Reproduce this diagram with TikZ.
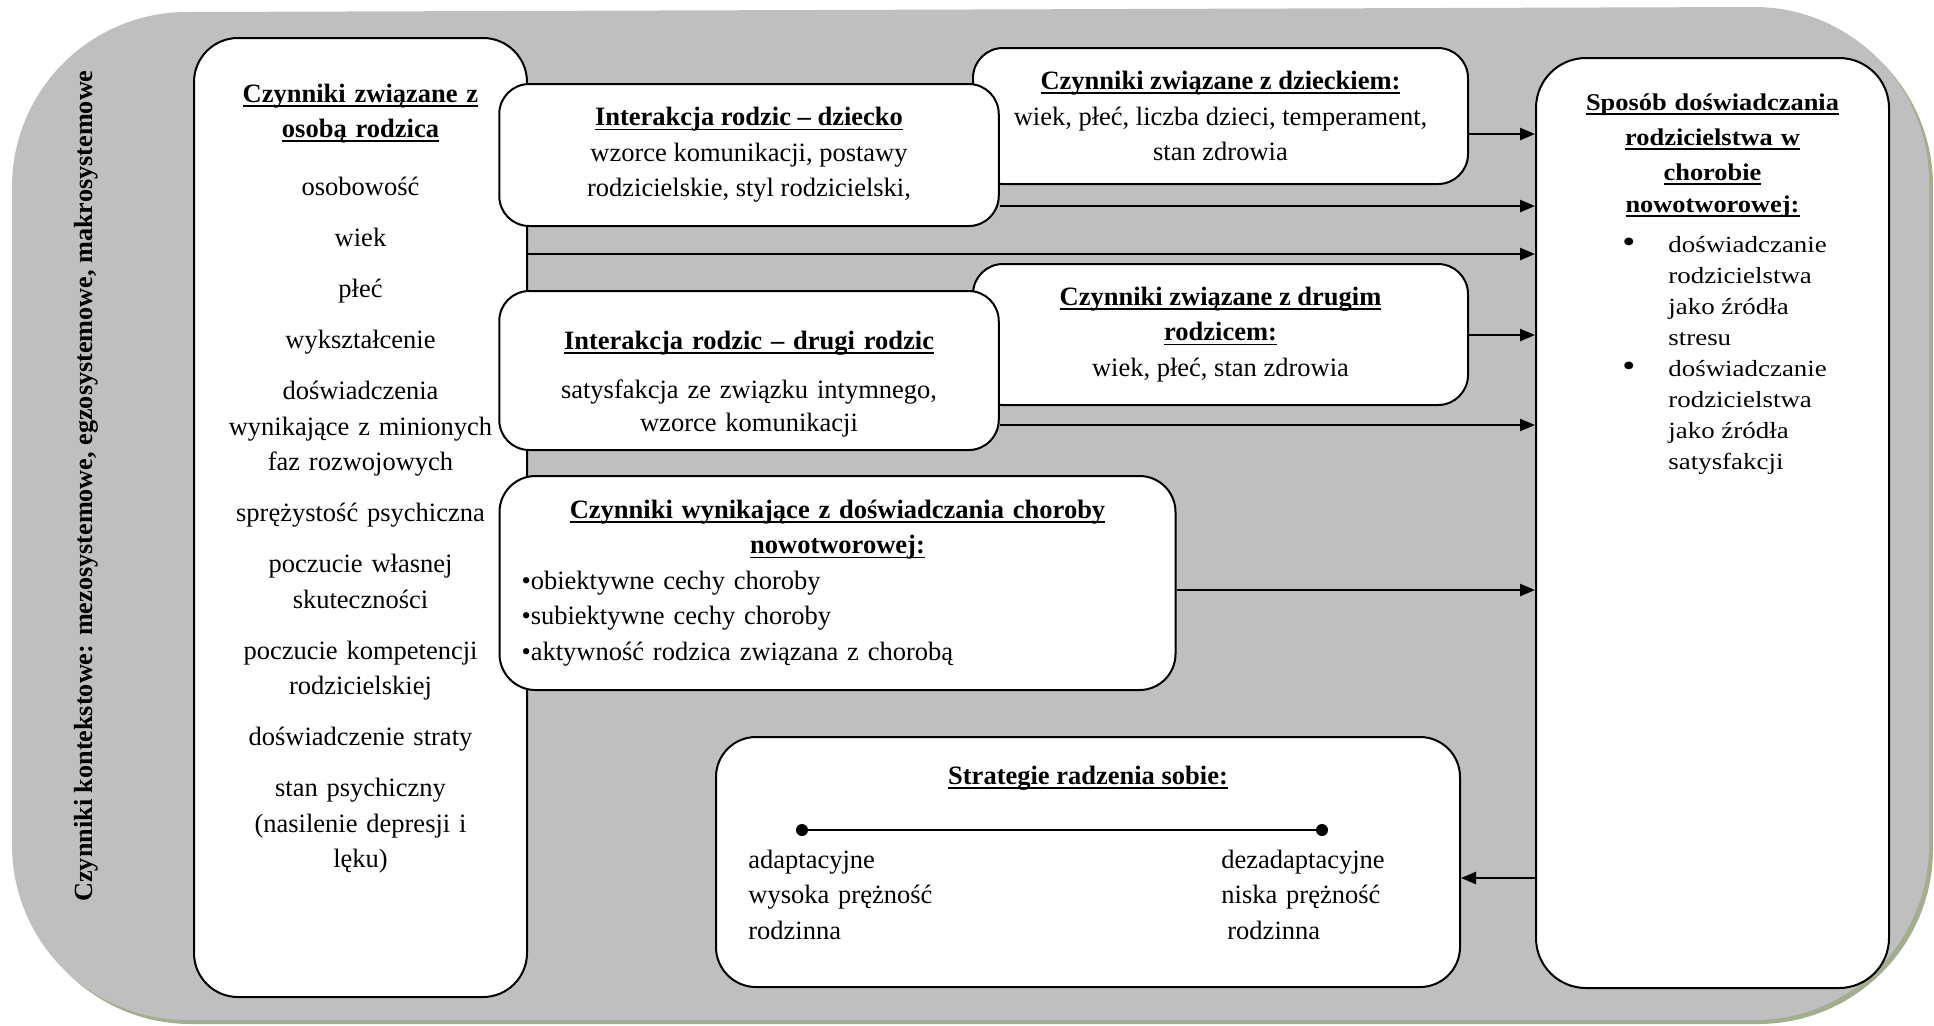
\documentclass[tikz,border=0pt]{standalone}
\usepackage{fontspec}
\setmainfont{Liberation Serif}
\newfontfamily\titlewide[FakeStretch=1.1]{Liberation Serif}
\newfontfamily\bodywide[FakeStretch=1.16]{Liberation Serif}
\usepackage{xcolor}
\usepackage{tikz}
\usetikzlibrary{arrows.meta}
\definecolor{panelgray}{HTML}{BFBFBF}
\definecolor{shadegreen}{HTML}{A3AE8E}

\newsavebox\headbox
\newcommand{\boxhead}[1]{\leavevmode\sbox\headbox{\bfseries #1}%
  \rlap{\rule[-2.3pt]{\wd\headbox}{0.9pt}}\usebox\headbox}
\newcommand{\bigbullet}{{\fontsize{16}{15.5}\selectfont •}}
\newcommand{\panelpath}{(12,187) arc[start angle=180, end angle=270, radius=175]
  -- (1754,7) arc[start angle=270, end angle=360, radius=175]
  -- (1929,845) arc[start angle=0, end angle=90, radius=175]
  -- (187,1020) arc[start angle=90, end angle=180, radius=175] -- cycle}

\tikzset{
  box/.style={draw, line width=1pt, fill=white, rounded corners=15pt},
  txt/.style={font=\fontsize{13.25}{17.75}\selectfont},
  conn/.style={line width=1.2pt, -{Triangle[length=7.5pt,width=6pt]}},
  dot/.style={circle, fill=black, inner sep=0pt, minimum size=6pt}
}

\begin{document}
\begin{tikzpicture}[x=0.5pt, y=-0.5pt]
  \useasboundingbox (0,0) rectangle (1934,1025);
  \fill[shadegreen, shift={(4,4)}] \panelpath;
  \fill[panelgray] \panelpath;

  \node[rotate=90, font=\bfseries\fontsize{13.1}{16}\selectfont] (kontekst) at (86,486)
    {Czynniki kontekstowe: mezosystemowe, egzosystemowe, makrosystemowe};

  \node[box, rounded corners=22pt, minimum width=166.5pt, minimum height=479.5pt] (osoba) at (360.5,517.5) {};
  \node[txt, text width=166pt, align=center, anchor=base] (osobatxt) at (360.5,102) {%
    \boxhead{Czynniki związane z}\\\boxhead{osobą rodzica}\\[11.25pt]
    osobowość\\[7.75pt]
    wiek\\[7.75pt]
    płeć\\[7.75pt]
    wykształcenie\\[7.75pt]
    doświadczenia\\wynikające z minionych\\faz rozwojowych\\[7.75pt]
    sprężystość psychiczna\\[7.75pt]
    poczucie własnej\\skuteczności\\[7.75pt]
    poczucie kompetencji\\rodzicielskiej\\[7.75pt]
    doświadczenie straty\\[7.75pt]
    stan psychiczny\\(nasilenie depresji i\\lęku)};

  \node[box, txt, minimum width=247.5pt, minimum height=68pt, align=center] (dz) at (1220.5,116) {%
    \boxhead{Czynniki związane z dzieckiem:}\\wiek, płeć, liczba dzieci, temperament,\\stan zdrowia};
  \node[box, txt, minimum width=247.5pt, minimum height=70.5pt, align=center] (dr) at (1220.5,334.5) {%
    \boxhead{Czynniki związane z drugim}\\\boxhead{rodzicem:}\\wiek, płeć, stan zdrowia};

  \node[box, txt, minimum width=249.75pt, minimum height=71pt, align=center] (ird) at (749,155) {%
    \boxhead{Interakcja rodzic – dziecko}\\wzorce komunikacji, postawy\\rodzicielskie, styl rodzicielski,};
  \node[box, minimum width=249.75pt, minimum height=79.5pt] (irr) at (749,370.5) {};
  \node[txt, text width=240pt, align=center, anchor=base] (irrtxt) at (749,349) {%
    \boxhead{Interakcja rodzic – drugi rodzic}\\[7pt]satysfakcja ze związku intymnego,\\[-1.5pt]wzorce komunikacji};
  \node[box, txt, rounded corners=18pt, minimum width=338pt, minimum height=107pt,
        text width=316pt, inner xsep=11pt] (chor) at (837.5,583) {%
    {\centering\boxhead{Czynniki wynikające z doświadczania choroby}\\\boxhead{nowotworowej:}\par}
    \raggedright •obiektywne cechy choroby\\•subiektywne cechy choroby\\•aktywność rodzica związana z chorobą};

  \node[box, rounded corners=20pt, minimum width=372pt, minimum height=125pt] (strat) at (1088,862) {};
  \node[txt, anchor=base] (strattitle) at (1088,784) {\boxhead{Strategie radzenia sobie:}};
  \node[dot] (adapt) at (802,830) {};
  \node[dot] (dezadapt) at (1322,830) {};
  \draw[line width=1.3pt] (adapt) -- (dezadapt);
  \node[txt, text width=120pt, align=left, anchor=base west, inner sep=0pt] (adapttxt) at (748,868)
    {adaptacyjne\\wysoka prężność\\rodzinna};
  \node[txt, text width=120pt, align=left, anchor=base west, inner sep=0pt] (dezadapttxt) at (1221,868)
    {dezadaptacyjne\\niska prężność\\\hspace*{3pt}rodzinna};

  \node[box, rounded corners=25pt, minimum width=176.5pt, minimum height=465pt] (sp) at (1712.5,523) {};
  \node[font=\titlewide\fontsize{12}{17.5}\selectfont, text width=172pt, align=center, anchor=base] (sptitle) at (1712.5,110) {%
    \boxhead{Sposób doświadczania}\\\boxhead{rodzicielstwa w}\\\boxhead{chorobie}\\[-1.5pt]\boxhead{nowotworowej:}};
  \node[font=\bodywide\fontsize{11.6}{15.5}\selectfont, anchor=base west, inner sep=0pt] (splist) at (1622,252) {%
    \begin{tabular}[t]{@{}p{23pt}@{}l@{}}
      \bigbullet & doświadczanie\\ & rodzicielstwa\\ & jako źródła\\ & stresu\\
      \bigbullet & doświadczanie\\ & rodzicielstwa\\ & jako źródła\\ & satysfakcji
    \end{tabular}};

  \draw[conn] (dz.east |- 0,134) -- (sp.west |- 0,134);
  \draw[conn] (ird.east |- 0,206) -- (sp.west |- 0,206);
  \draw[conn] (osoba.east |- 0,254) -- (sp.west |- 0,254);
  \draw[conn] (dr.east |- 0,335) -- (sp.west |- 0,335);
  \draw[conn] (irr.east |- 0,425) -- (sp.west |- 0,425);
  \draw[conn] (chor.east |- 0,590) -- (sp.west |- 0,590);
  \draw[conn] (sp.west |- 0,878) -- (strat.east |- 0,878);
\end{tikzpicture}
\end{document}
